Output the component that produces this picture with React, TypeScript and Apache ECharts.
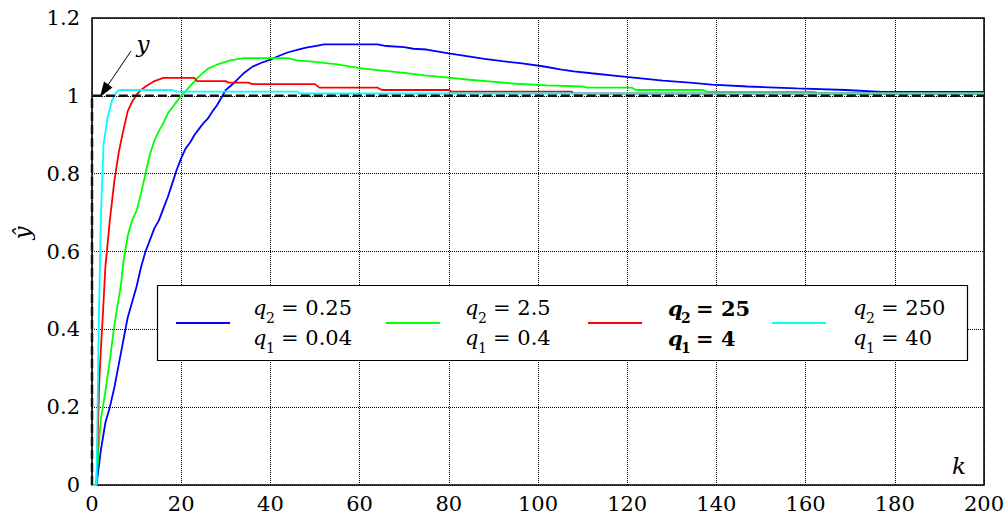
import React, { useEffect, useRef } from "react";
import * as echarts from "echarts";

const xTicks = { min: 0, max: 200, interval: 20 };
const yTicks = { min: 0, max: 1.2, interval: 0.2 };

const blueData: number[][] = [
  [0, 0], [1, 0], [2, 0.09], [3, 0.16], [4, 0.2], [5, 0.25], [6, 0.31], [7, 0.37], [8, 0.43], [9, 0.47],
  [10, 0.51], [11, 0.56], [12, 0.6], [13, 0.63], [14, 0.66], [15, 0.68], [16, 0.71], [17, 0.74], [18, 0.775],
  [19, 0.81], [20, 0.84], [21, 0.865], [22, 0.88], [23, 0.9], [24, 0.915], [25, 0.93], [26, 0.942], [27, 0.96],
  [28, 0.975], [29, 0.995], [30, 1.015], [32, 1.035], [34, 1.058], [36, 1.075], [38, 1.085], [40, 1.093],
  [42, 1.103], [44, 1.112], [46, 1.118], [48, 1.124], [50, 1.128], [52, 1.132], [64, 1.132], [66, 1.128],
  [70, 1.125], [72, 1.121], [75, 1.119], [77, 1.115], [80, 1.109], [84, 1.102], [88, 1.095],
  [92, 1.089], [96, 1.084], [101, 1.076], [105, 1.068], [108, 1.063], [112, 1.058], [117, 1.052], [122, 1.046],
  [128, 1.039], [134, 1.034], [139, 1.029], [147, 1.024], [158, 1.019], [169, 1.015], [177, 1.01], [200, 1.01],
];

const greenData: number[][] = [
  [0, 0], [1, 0], [1.5, 0.1], [2, 0.17], [3, 0.24], [4, 0.32], [5, 0.41], [6, 0.48], [6.5, 0.515], [7, 0.57],
  [8, 0.64], [9, 0.68], [10, 0.705], [11, 0.75], [12, 0.8], [13, 0.85], [14, 0.885], [15, 0.91], [16, 0.93],
  [17, 0.955], [18, 0.97], [19, 0.985], [20, 1.0], [22, 1.025], [24, 1.05], [26, 1.07], [28, 1.08], [31, 1.091],
  [34, 1.097], [44, 1.097], [46, 1.091], [50, 1.087], [55, 1.081], [60, 1.071], [65, 1.065], [70, 1.059],
  [75, 1.052], [80, 1.047], [84, 1.042], [89, 1.037], [95, 1.031], [102, 1.027], [110, 1.024], [111, 1.021],
  [121, 1.021], [122, 1.015], [137, 1.015], [138, 1.01], [162, 1.01], [163, 1.006], [200, 1.006],
];

const redData: number[][] = [
  [0, 0], [1, 0], [1.6, 0.258], [2, 0.35], [2.4, 0.43], [3, 0.56], [4, 0.68], [5, 0.78], [6, 0.855], [7, 0.91],
  [8, 0.96], [9, 0.985], [10, 1.003], [11, 1.015], [12, 1.024], [13, 1.031], [14, 1.038], [16, 1.046],
  [23, 1.046], [23.5, 1.038], [30, 1.038], [30.5, 1.034], [35, 1.034], [36, 1.03], [50, 1.03], [51, 1.021],
  [64, 1.021], [65, 1.015], [80, 1.015], [80.5, 1.011], [107.5, 1.011], [108, 1.006], [200, 1.006],
];

const cyanData: number[][] = [
  [0, 0], [1, 0], [1.5, 0.4], [2, 0.69], [2.6, 0.876], [3.5, 0.945], [4.5, 0.988], [5.4, 1.008], [6.1, 1.015],
  [18, 1.015], [19, 1.011], [46, 1.011], [46.5, 1.006], [200, 1.006],
];

const referenceData: number[][] = [[0, 0], [0, 1], [200, 1]];

const seriesColors = ["#0000ff", "#00ff00", "#ff0000", "#00ffff"];
const legendQ2 = ["0.25", "2.5", "25", "250"];
const legendQ1 = ["0.04", "0.4", "4", "40"];
const legendBold = [false, false, true, false];

const FONT = "DejaVu Serif";

export default function App() {
  const ref = useRef<HTMLDivElement>(null);
  useEffect(() => {
    if (!ref.current) return;
    const chart = echarts.init(ref.current, null, { renderer: "svg" });

    const lineX = [176, 386, 588, 772];
    const textX = [253, 465, 668, 853];
    const legendEls: any[] = [
      {
        type: "rect",
        shape: { x: 157.5, y: 285.5, width: 810, height: 75 },
        style: { fill: "#fff", stroke: "#000", lineWidth: 1.2 },
        z: 100,
      },
    ];
    const txt = (text: string, x: number, y: number, size: number, italic: boolean, bold: boolean, align = "left") => ({
      type: "text",
      z: 101,
      style: {
        text, x, y, fill: "#000",
        fontFamily: FONT, fontSize: size,
        fontStyle: italic ? "italic" : "normal",
        fontWeight: bold ? "bold" : "normal",
        align, verticalAlign: "middle",
      },
    });
    for (let i = 0; i < 4; i++) {
      const b = legendBold[i];
      legendEls.push({
        type: "line",
        shape: { x1: lineX[i], y1: 323, x2: lineX[i] + 54, y2: 323 },
        style: { stroke: seriesColors[i], lineWidth: 1.8 },
        z: 101,
      });
      const rows = [
        { sub: "2", val: legendQ2[i], y: 308, sy: 318 },
        { sub: "1", val: legendQ1[i], y: 338, sy: 348 },
      ];
      rows.forEach((r) => {
        legendEls.push(txt("q", textX[i], r.y, 21, true, b));
        legendEls.push(txt(r.sub, textX[i] + 13, r.sy, 14, false, b));
        legendEls.push(txt("= " + r.val, textX[i] + 28, r.y, 21, false, b));
      });
    }

    const graphics: any[] = [
      ...legendEls,
      txt("y", 143, 44, 23, true, false, "center"),
      {
        type: "line",
        z: 100,
        shape: { x1: 131, y1: 51, x2: 108, y2: 85 },
        style: { stroke: "#000", lineWidth: 1 },
      },
      {
        type: "polygon",
        z: 100,
        shape: { points: [[100, 97], [112.5, 87.5], [104, 81.5]] },
        style: { fill: "#000" },
      },
      txt("k", 959, 466, 23, true, false, "center"),
      {
        type: "text",
        z: 100,
        x: 22,
        y: 233,
        rotation: Math.PI / 2,
        style: {
          text: "ŷ", x: 0, y: 0, fill: "#000",
          fontFamily: FONT, fontSize: 23, fontStyle: "italic",
          align: "center", verticalAlign: "middle",
        },
      },
    ];

    const mk = (data: number[][], color: string) => ({
      type: "line",
      data,
      symbol: "none",
      lineStyle: { color, width: 1.8 },
      z: 3,
    });

    chart.setOption({
      animation: false,
      backgroundColor: "#fff",
      grid: {
        left: 92, right: 24, top: 18, bottom: 37,
        show: true, borderColor: "#000", borderWidth: 1.5, backgroundColor: "transparent",
      },
      xAxis: {
        type: "value",
        min: xTicks.min, max: xTicks.max, interval: xTicks.interval,
        axisLine: { show: false },
        axisTick: { show: false },
        axisLabel: { color: "#000", fontSize: 21, fontFamily: FONT, margin: 8 },
        splitLine: { show: true, lineStyle: { color: "#000", width: 1, type: [1, 1] } },
      },
      yAxis: {
        type: "value",
        min: yTicks.min, max: yTicks.max, interval: yTicks.interval,
        axisLine: { show: false },
        axisTick: { show: false },
        axisLabel: {
          color: "#000", fontSize: 21, fontFamily: FONT, margin: 12,
          formatter: (v: number) => String(+v.toFixed(1)),
        },
        splitLine: { show: true, lineStyle: { color: "#000", width: 1, type: [1, 1] } },
      },
      series: [
        mk(blueData, seriesColors[0]),
        mk(greenData, seriesColors[1]),
        mk(redData, seriesColors[2]),
        mk(cyanData, seriesColors[3]),
        {
          type: "line",
          data: referenceData,
          symbol: "none",
          lineStyle: { color: "#111", width: 2.5, type: [9, 4] },
          z: 4,
        },
      ],
      graphic: graphics,
    });
    return () => chart.dispose();
  }, []);

  return (
    <div
      ref={ref}
      style={{ position: "absolute", left: 0, top: 0, width: 1008, height: 522 }}
    />
  );
}
